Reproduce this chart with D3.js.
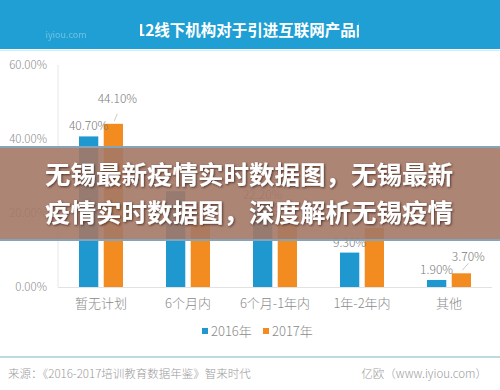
<!DOCTYPE html>
<html>
<head>
<meta charset="utf-8">
<script src="https://cdn.jsdelivr.net/npm/d3@7"></script>
<style>
  body { margin: 0; background: #fff; }
  svg { display: block; font-family: "Noto Sans CJK SC", "Noto Sans", sans-serif; }
</style>
</head>
<body>
<div id="chart"></div>
<script>
// data (bars under the banner are estimated)
var categories = ["暂无计划", "6个月内", "6个月-1年内", "1年-2年内", "其他"];
var series = ["2016年", "2017年"];
var values2016 = [40.7, 25.9, 22.2, 9.3, 1.9];
var values2017 = [44.1, 17.5, 18.7, 16.0, 3.7];
var yTicks = [0, 20, 40, 60];

var colors = ["#1f98d0", "#f28b20"];

var W = 500, H = 390;
var svg = d3.select("#chart").append("svg")
  .attr("width", W).attr("height", H);

// header band
svg.append("rect").attr("x", 0).attr("y", 0).attr("width", W).attr("height", 49).attr("fill", "#1f9fd3");
svg.append("line").attr("x1", 0).attr("x2", W).attr("y1", 50.5).attr("y2", 50.5)
  .attr("stroke", "#c8f0fa").attr("stroke-width", 1);
svg.append("text").attr("x", 66).attr("y", 38).attr("text-anchor", "middle")
  .attr("fill", "#ffffff").attr("opacity", 0.35).style("font-size", "9px").text("iyiou.com");

svg.append("clipPath").attr("id", "titleClip")
  .append("rect").attr("x", 140).attr("y", 10).attr("width", 219).attr("height", 35);
svg.append("text")
  .attr("clip-path", "url(#titleClip)")
  .attr("x", 136).attr("y", 35.5)
  .attr("fill", "#fff").style("font-size", "15.5px").style("font-weight", "bold")
  .text("12线下机构对于引进互联网产品的时间计划");

// scales
var x0 = d3.scaleBand().domain(categories).range([57.5, 492.5]);
var x1 = d3.scaleBand().domain(series)
  .range([x0.bandwidth() / 2 - 22, x0.bandwidth() / 2 + 22]).paddingInner(0.22);
var y = d3.scaleLinear().domain([0, 60]).range([287, 65]);

// axes lines
svg.append("line").attr("x1", 58).attr("x2", 58).attr("y1", y(60)).attr("y2", y(0))
  .attr("stroke", "#e6e6e6");
svg.append("line").attr("x1", 58).attr("x2", 492).attr("y1", y(0) + 0.5).attr("y2", y(0) + 0.5)
  .attr("stroke", "#e2e2e2");

svg.selectAll(".ytick").data(yTicks).enter().append("text")
  .attr("class", "ytick")
  .attr("x", 47).attr("y", function(d) { return y(d) + 4; })
  .attr("text-anchor", "end")
  .attr("fill", "#8c8c8c").style("font-size", "11.5px").style("font-weight", 300)
  .text(function(d) { return d.toFixed(2) + "%"; });

var rows = [];
categories.forEach(function(c, i) {
  rows.push({ cat: c, s: series[0], v: values2016[i] });
  rows.push({ cat: c, s: series[1], v: values2017[i] });
});

svg.selectAll(".bar").data(rows).enter().append("rect")
  .attr("class", "bar")
  .attr("x", function(d) { return x0(d.cat) + x1(d.s); })
  .attr("width", x1.bandwidth())
  .attr("y", function(d) { return y(d.v); })
  .attr("height", function(d) { return y(0) - y(d.v); })
  .attr("fill", function(d) { return d.s == series[0] ? colors[0] : colors[1]; });

// labels that were nudged with a leader line
var nudge = { "44.1": [4, -15], "3.7": [7, -6] };

rows.forEach(function(d) {
  var cx = x0(d.cat) + x1(d.s) + x1.bandwidth() / 2;
  var ty = y(d.v) - 6;
  var n = nudge[String(d.v)];
  if (n && d.s == series[1]) {
    svg.append("line")
      .attr("x1", cx + 1).attr("y1", y(d.v) - 3)
      .attr("x2", cx + n[0]).attr("y2", y(d.v) - 10)
      .attr("stroke", "#bbb").attr("stroke-width", 0.8);
    cx += n[0]; ty += n[1];
  }
  svg.append("text")
    .attr("x", cx).attr("y", ty).attr("text-anchor", "middle")
    .attr("fill", "#7a7a7a").style("font-size", "12px").style("font-weight", 300)
    .text(d.v.toFixed(2) + "%");
});

svg.selectAll(".xlab").data(categories).enter().append("text")
  .attr("class", "xlab")
  .attr("x", function(d) { return x0(d) + x0.bandwidth() / 2; })
  .attr("y", 308).attr("text-anchor", "middle")
  .attr("fill", "#8a8a8a").style("font-size", "13px").style("font-weight", 300)
  .text(function(d) { return d; });

// legend
var leg = svg.selectAll(".leg").data(series).enter().append("g")
  .attr("class", "leg")
  .attr("transform", function(d, i) { return "translate(" + (202 + i * 61) + ",331)"; });
leg.append("rect").attr("x", 0).attr("y", -3).attr("width", 6).attr("height", 6)
  .attr("fill", function(d, i) { return colors[i]; });
leg.append("text").attr("x", 9).attr("y", 4.5)
  .attr("fill", "#8a8a8a").style("font-size", "13px").style("font-weight", 300)
  .text(function(d) { return d; });

// footer
svg.append("line").attr("x1", 0).attr("x2", W).attr("y1", 357).attr("y2", 357)
  .attr("stroke", "#79b7c4").attr("stroke-width", 1.2);
svg.append("text").attr("x", 8).attr("y", 378)
  .attr("fill", "#9a9a9a").style("font-size", "11.5px").style("font-weight", 300)
  .text("来源：《2016-2017培训教育数据年鉴》智来时代");
svg.append("text").attr("x", 487).attr("y", 378).attr("text-anchor", "end")
  .attr("fill", "#9a9a9a").style("font-size", "11.5px").style("font-weight", 300)
  .text("亿欧（www.iyiou.com）");

// overlay banner
var defs = svg.append("defs");
var f = defs.append("filter").attr("id", "shadow").attr("x", "-5%").attr("y", "-20%")
  .attr("width", "110%").attr("height", "140%");
f.append("feDropShadow").attr("dx", 1).attr("dy", 1).attr("stdDeviation", 1)
  .attr("flood-color", "#3a2418").attr("flood-opacity", 0.8);

svg.append("rect").attr("x", 0).attr("y", 147).attr("width", W).attr("height", 93)
  .attr("fill", "#a47866").attr("opacity", 0.9);
svg.append("line").attr("x1", 0).attr("x2", W).attr("y1", 147).attr("y2", 147)
  .attr("stroke", "#86a3b8").attr("stroke-width", 2);
svg.append("line").attr("x1", 0).attr("x2", W).attr("y1", 240).attr("y2", 240)
  .attr("stroke", "#86a3b8").attr("stroke-width", 2);

var bannerLines = ["无锡最新疫情实时数据图，无锡最新", "疫情实时数据图，深度解析无锡疫情"];
svg.selectAll(".ban").data(bannerLines).enter().append("text")
  .attr("class", "ban")
  .attr("x", 249).attr("y", function(d, i) { return 184 + i * 38; })
  .attr("text-anchor", "middle")
  .attr("fill", "#fff").attr("filter", "url(#shadow)")
  .style("font-size", "25.5px").style("font-weight", "bold")
  .text(function(d) { return d; });
</script>
</body>
</html>
